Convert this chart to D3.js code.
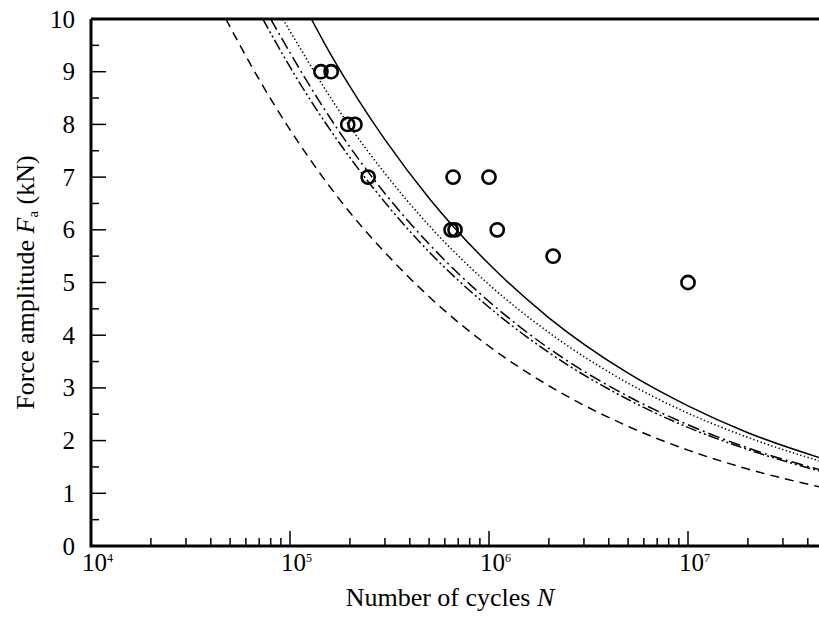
<!DOCTYPE html>
<html>
<head>
<meta charset="utf-8">
<script src="https://cdn.jsdelivr.net/npm/d3@7"></script>
<style>
  body { margin: 0; background: #fff; }
  svg { display: block; font-family: "Liberation Serif", "Times New Roman", serif; }
</style>
</head>
<body>
<div id="chart"></div>
<script>
// S-N curves (force amplitude vs number of cycles)
const curveN = [4.76e4, 7e4, 7.3e4, 8.0e4, 9.2e4, 1e5, 1.28e5, 1.5e5, 2e5, 3e5, 5e5, 1e6, 2e6, 5e6, 1e7, 2e7, 5e7];

// null = curve not yet inside the plot (above 10 kN)
const solidF      = [null, null, null, null, null, null, 10, 9.52, 8.72, 7.71, 6.60, 5.35, 4.33, 3.28, 2.66, 2.15, 1.63];
const dottedF     = [null, null, null, null, 10, 9.77, null, 8.67, 7.96, 7.07, 6.08, 4.96, 4.05, 3.09, 2.52, 2.06, 1.57];
const dashDotF    = [null, null, null, 10, null, 9.36, null, 8.27, 7.57, 6.69, 5.73, 4.64, 3.75, 2.84, 2.30, 1.86, 1.41];
const dashDotDotF = [null, null, 10, null, null, 9.09, null, 8.04, 7.37, 6.52, 5.58, 4.53, 3.67, 2.78, 2.25, 1.83, 1.38];
const dashedF     = [10, 8.85, null, null, null, 7.90, null, 6.94, 6.33, 5.57, 4.73, 3.79, 3.04, 2.27, 1.82, 1.46, 1.09];

// test results
const testN = [1.43e5, 1.61e5, 1.95e5, 2.12e5, 2.47e5, 6.6e5, 1.0e6, 6.45e5, 6.75e5, 1.1e6, 2.1e6, 1.0e7];
const testF = [9, 9, 8, 8, 7, 7, 7, 6, 6, 6, 5.5, 5];

const yTicks = [0, 1, 2, 3, 4, 5, 6, 7, 8, 9, 10];
const xDecades = [1e4, 1e5, 1e6, 1e7];

const W = 819, H = 621;
const plotLeft = 91, plotTop = 19, plotBottom = 546;

const svg = d3.select('#chart').append('svg')
  .attr('width', W).attr('height', H);

const x = d3.scaleLog().domain([1e4, 5e7]).range([plotLeft, plotLeft + 199 * Math.log10(5e3)]);
const y = d3.scaleLinear().domain([0, 10]).range([plotBottom, plotTop]);

svg.append('defs').append('clipPath').attr('id', 'plot-clip')
  .append('rect').attr('x', plotLeft).attr('y', plotTop)
  .attr('width', W - plotLeft).attr('height', plotBottom - plotTop);

// curves
const series = [
  { f: solidF, dash: null },
  { f: dottedF, dash: '1.4,2.4' },
  { f: dashDotF, dash: '12,4,2,4' },
  { f: dashDotDotF, dash: '11,3,2,3,2,3' },
  { f: dashedF, dash: '9,6' }
];

const line = d3.line()
  .x(d => x(d[0]))
  .y(d => y(d[1]))
  .curve(d3.curveMonotoneX);

const plot = svg.append('g').attr('clip-path', 'url(#plot-clip)');

series.forEach(s => {
  const pts = curveN.map((n, i) => [n, s.f[i]]).filter(d => d[1] !== null);
  plot.append('path')
    .attr('d', line(pts))
    .attr('fill', 'none')
    .attr('stroke', '#000')
    .attr('stroke-width', 1.5)
    .attr('stroke-dasharray', s.dash);
});

// test points
plot.selectAll('.pt')
  .data(testN.map((n, i) => [n, testF[i]]))
  .join('circle')
  .attr('cx', d => x(d[0]))
  .attr('cy', d => y(d[1]))
  .attr('r', 6.6)
  .attr('fill', 'none')
  .attr('stroke', '#000')
  .attr('stroke-width', 2.6);

// y ticks (major + halves), pointing inward
const yMinor = d3.range(0.5, 10, 1);
svg.selectAll('.ytick')
  .data(yTicks.slice(1, -1))
  .join('line')
  .attr('x1', plotLeft).attr('x2', plotLeft + 15)
  .attr('y1', d => y(d)).attr('y2', d => y(d))
  .attr('stroke', '#000').attr('stroke-width', 1.5);
svg.selectAll('.yminor')
  .data(yMinor)
  .join('line')
  .attr('x1', plotLeft).attr('x2', plotLeft + 8)
  .attr('y1', d => y(d)).attr('y2', d => y(d))
  .attr('stroke', '#000').attr('stroke-width', 1.5);

svg.selectAll('.ylabel')
  .data(yTicks)
  .join('text')
  .attr('x', 75)
  .attr('y', d => y(d) + 8.5)
  .attr('text-anchor', 'end')
  .attr('font-size', '25px')
  .text(d => d);

// x ticks (decades + 2..9), pointing inward
const xMinor = [];
xDecades.forEach(dec => {
  for (let k = 2; k <= 9; k++) xMinor.push(dec * k);
});
svg.selectAll('.xminor')
  .data(xMinor.filter(v => x(v) < W))
  .join('line')
  .attr('x1', d => x(d)).attr('x2', d => x(d))
  .attr('y1', plotBottom).attr('y2', plotBottom - 8)
  .attr('stroke', '#000').attr('stroke-width', 1.5);
svg.selectAll('.xtick')
  .data(xDecades.slice(1))
  .join('line')
  .attr('x1', d => x(d)).attr('x2', d => x(d))
  .attr('y1', plotBottom).attr('y2', plotBottom - 15)
  .attr('stroke', '#000').attr('stroke-width', 1.5);

const xl = svg.selectAll('.xlabel')
  .data(xDecades)
  .join('text')
  .attr('x', d => x(d) - 9)
  .attr('y', plotBottom + 25)
  .attr('font-size', '25px');
xl.append('tspan').text('10');
xl.append('tspan')
  .attr('font-size', '12px')
  .attr('dy', -9)
  .text(d => Math.round(Math.log10(d)));

// frame: left, bottom, top
svg.append('path')
  .attr('d', `M${plotLeft},${plotTop}V${plotBottom}H${W}M${plotLeft},${plotTop}H${W}`)
  .attr('fill', 'none')
  .attr('stroke', '#000')
  .attr('stroke-width', 3);

// axis titles
const xt = svg.append('text')
  .attr('x', 450).attr('y', 606)
  .attr('text-anchor', 'middle')
  .attr('font-size', '26px');
xt.append('tspan').text('Number of cycles ');
xt.append('tspan').attr('font-style', 'italic').text('N');

const yt = svg.append('text')
  .attr('transform', `translate(34,${(plotTop + plotBottom) / 2}) rotate(-90)`)
  .attr('text-anchor', 'middle')
  .attr('font-size', '26px');
yt.append('tspan').text('Force amplitude ');
yt.append('tspan').attr('font-style', 'italic').text('F');
yt.append('tspan').attr('font-size', '15px').attr('dy', 4).text('a');
yt.append('tspan').attr('dy', -4).text(' (kN)');
</script>
</body>
</html>
